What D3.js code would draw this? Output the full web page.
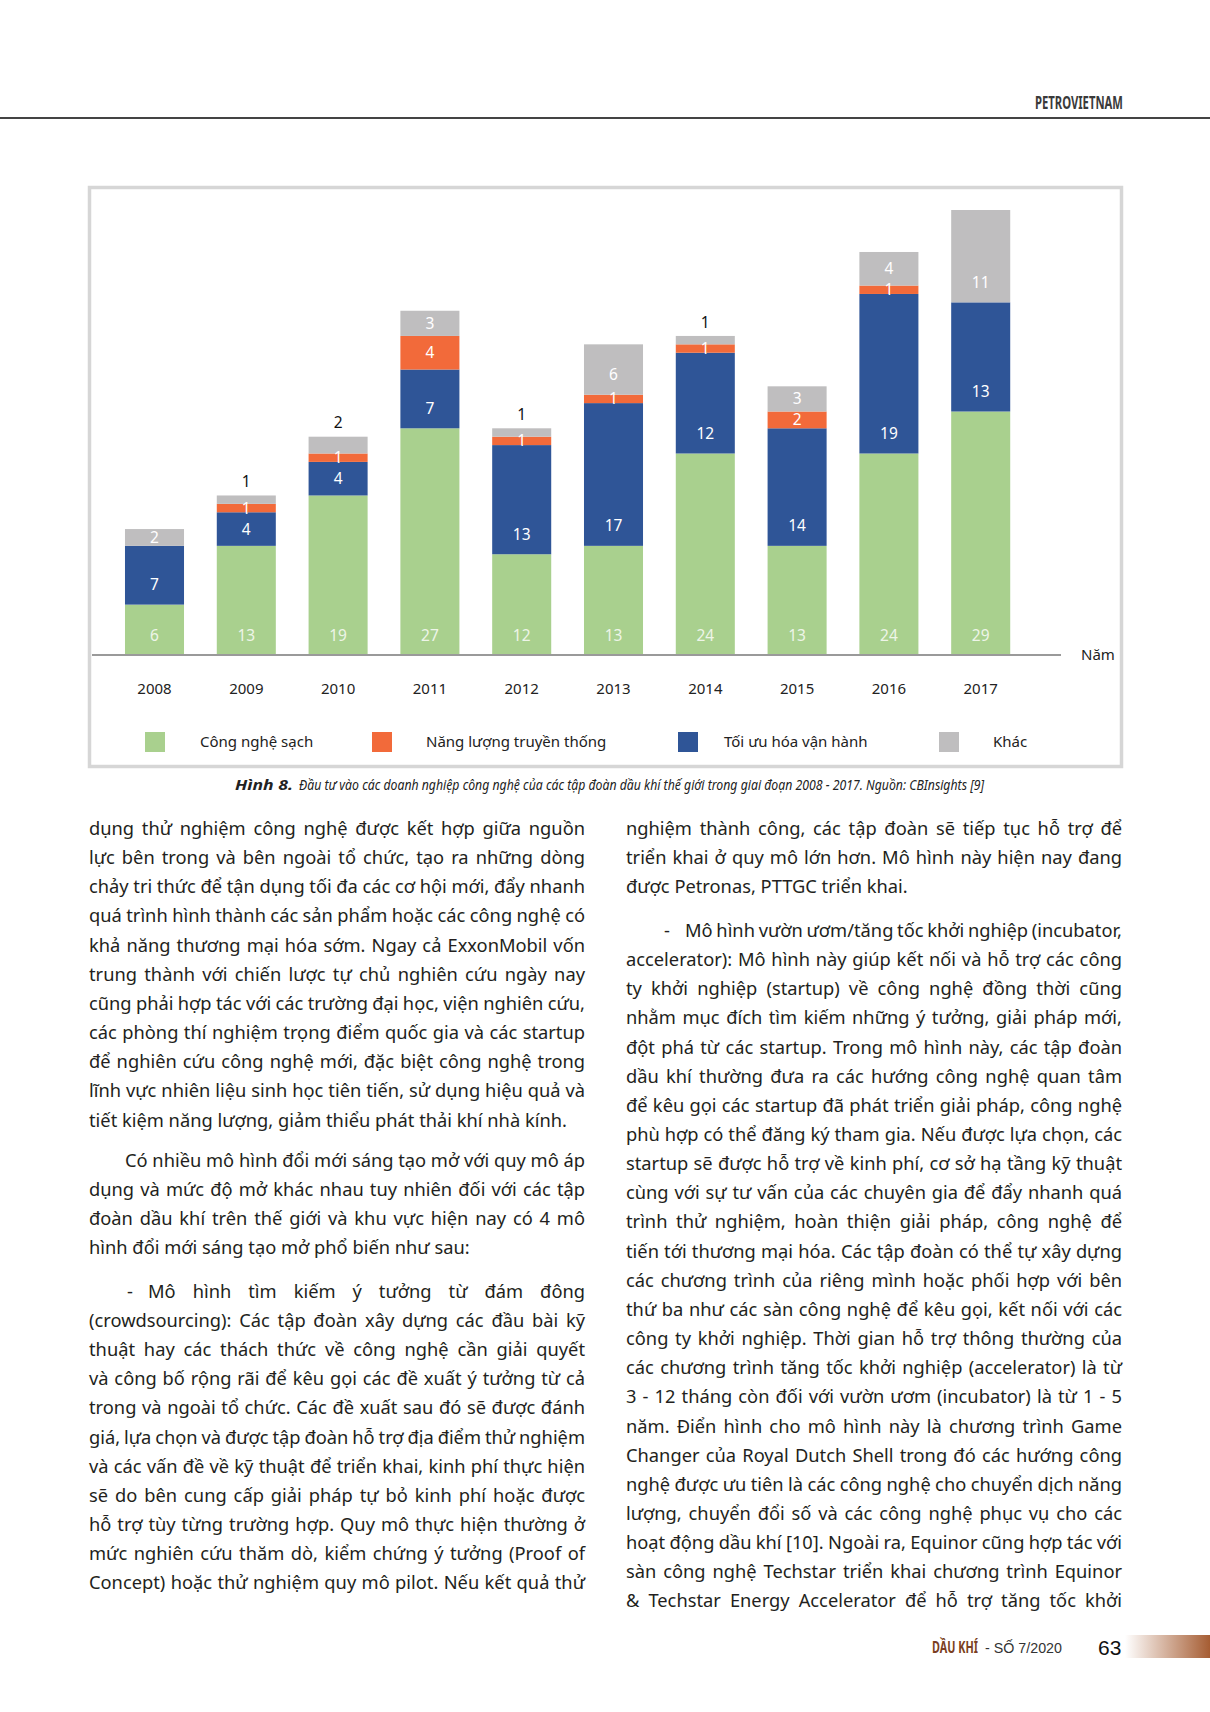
<!DOCTYPE html>
<html><head><meta charset="utf-8">
<script src="https://cdn.jsdelivr.net/npm/d3@7/dist/d3.min.js"></script>
<style>
body{margin:0;background:#fff;}
svg{display:block;}
</style></head>
<body>
<svg id="page" width="1210" height="1712"></svg>
<script>
// ---------- DATA ----------
const years = ["2008","2009","2010","2011","2012","2013","2014","2015","2016","2017"];
const cleanTech    = [6, 13, 19, 27, 12, 13, 24, 13, 24, 29];   // Công nghệ sạch
const optimization = [7, 4, 4, 7, 13, 17, 12, 14, 19, 13];      // Tối ưu hóa vận hành
const traditional  = [0, 1, 1, 4, 1, 1, 1, 2, 1, 0];            // Năng lượng truyền thống
const other        = [2, 1, 2, 3, 1, 6, 1, 3, 4, 11];           // Khác
const seriesNames = ["Công nghệ sạch", "Năng lượng truyền thống", "Tối ưu hóa vận hành", "Khác"];
const axisTitle = "Năm";
const caption = ["Hình 8.", "Đầu tư vào các doanh nghiệp công nghệ của các tập đoàn dầu khí thế giới trong giai đoạn 2008 - 2017. Nguồn: CBInsights [9]"];
const headerText = "PETROVIETNAM";
const footerText = ["DẦU KHÍ", "- SỐ 7/2020", "63"];

const leftParas = [
  {first:"plain", last:false, lines:[
    "dụng thử nghiệm công nghệ được kết hợp giữa nguồn",
    "lực bên trong và bên ngoài tổ chức, tạo ra những dòng",
    "chảy tri thức để tận dụng tối đa các cơ hội mới, đẩy nhanh",
    "quá trình hình thành các sản phẩm hoặc các công nghệ có",
    "khả năng thương mại hóa sớm. Ngay cả ExxonMobil vốn",
    "trung thành với chiến lược tự chủ nghiên cứu ngày nay",
    "cũng phải hợp tác với các trường đại học, viện nghiên cứu,",
    "các phòng thí nghiệm trọng điểm quốc gia và các startup",
    "để nghiên cứu công nghệ mới, đặc biệt công nghệ trong",
    "lĩnh vực nhiên liệu sinh học tiên tiến, sử dụng hiệu quả và",
    "tiết kiệm năng lượng, giảm thiểu phát thải khí nhà kính."]},
  {first:"indent", last:false, lines:[
    "Có nhiều mô hình đổi mới sáng tạo mở với quy mô áp",
    "dụng và mức độ mở khác nhau tuy nhiên đối với các tập",
    "đoàn dầu khí trên thế giới và khu vực hiện nay có 4 mô",
    "hình đổi mới sáng tạo mở phổ biến như sau:"]},
  {first:"dash", last:true, lines:[
    "Mô hình tìm kiếm ý tưởng từ đám đông",
    "(crowdsourcing): Các tập đoàn xây dựng các đầu bài kỹ",
    "thuật hay các thách thức về công nghệ cần giải quyết",
    "và công bố rộng rãi để kêu gọi các đề xuất ý tưởng từ cả",
    "trong và ngoài tổ chức. Các đề xuất sau đó sẽ được đánh",
    "giá, lựa chọn và được tập đoàn hỗ trợ địa điểm thử nghiệm",
    "và các vấn đề về kỹ thuật để triển khai, kinh phí thực hiện",
    "sẽ do bên cung cấp giải pháp tự bỏ kinh phí hoặc được",
    "hỗ trợ tùy từng trường hợp. Quy mô thực hiện thường ở",
    "mức nghiên cứu thăm dò, kiểm chứng ý tưởng (Proof of",
    "Concept) hoặc thử nghiệm quy mô pilot. Nếu kết quả thử"]}
];
const rightParas = [
  {first:"plain", last:false, lines:[
    "nghiệm thành công, các tập đoàn sẽ tiếp tục hỗ trợ để",
    "triển khai ở quy mô lớn hơn. Mô hình này hiện nay đang",
    "được Petronas, PTTGC triển khai."]},
  {first:"dash", last:true, lines:[
    "Mô hình vườn ươm/tăng tốc khởi nghiệp (incubator,",
    "accelerator): Mô hình này giúp kết nối và hỗ trợ các công",
    "ty khởi nghiệp (startup) về công nghệ đồng thời cũng",
    "nhằm mục đích tìm kiếm những ý tưởng, giải pháp mới,",
    "đột phá từ các startup. Trong mô hình này, các tập đoàn",
    "dầu khí thường đưa ra các hướng công nghệ quan tâm",
    "để kêu gọi các startup đã phát triển giải pháp, công nghệ",
    "phù hợp có thể đăng ký tham gia. Nếu được lựa chọn, các",
    "startup sẽ được hỗ trợ về kinh phí, cơ sở hạ tầng kỹ thuật",
    "cùng với sự tư vấn của các chuyên gia để đẩy nhanh quá",
    "trình thử nghiệm, hoàn thiện giải pháp, công nghệ để",
    "tiến tới thương mại hóa. Các tập đoàn có thể tự xây dựng",
    "các chương trình của riêng mình hoặc phối hợp với bên",
    "thứ ba như các sàn công nghệ để kêu gọi, kết nối với các",
    "công ty khởi nghiệp. Thời gian hỗ trợ thông thường của",
    "các chương trình tăng tốc khởi nghiệp (accelerator) là từ",
    "3 - 12 tháng còn đối với vườn ươm (incubator) là từ 1 - 5",
    "năm. Điển hình cho mô hình này là chương trình Game",
    "Changer của Royal Dutch Shell trong đó các hướng công",
    "nghệ được ưu tiên là các công nghệ cho chuyển dịch năng",
    "lượng, chuyển đổi số và các công nghệ phục vụ cho các",
    "hoạt động dầu khí [10]. Ngoài ra, Equinor cũng hợp tác với",
    "sàn công nghệ Techstar triển khai chương trình Equinor",
    "& Techstar Energy Accelerator để hỗ trợ tăng tốc khởi"]}
];

// ---------- STYLE ----------
const colors = {clean:"#a9d08e", opt:"#2f5597", trad:"#f26a3a", other:"#bfbebf"};
const FONT = "'Noto Sans', 'Open Sans', sans-serif";
const svg = d3.select("#page");

// text squeezed horizontally to a target width (condensed look)
function fitText(x, y, width, str, attrs) {
  const t = svg.append("text").attr("x", 0).attr("y", 0).text(str);
  Object.entries(attrs).forEach(([k, v]) => t.attr(k, v));
  const len = t.node().getComputedTextLength();
  t.attr("transform", `translate(${x},${y}) scale(${width / len},1)`);
  return t;
}

// ---------- HEADER ----------
fitText(1035, 108.5, 88, headerText,
  {"font-family": FONT, "font-weight": 700, "font-size": 18, "fill": "#3a3a3a"});
svg.append("line").attr("x1", 0).attr("x2", 1210).attr("y1", 118).attr("y2", 118)
  .attr("stroke", "#444").attr("stroke-width", 2);

// ---------- CHART ----------
svg.append("rect").attr("x", 89.5).attr("y", 187.5).attr("width", 1032).attr("height", 579)
  .attr("fill", "#fff").attr("stroke", "#d6d6d6").attr("stroke-width", 3.5);

const x = d3.scaleBand().domain(years).range([108.6, 1026.6]).paddingInner(0.357).paddingOuter(0.1785);
const y = d3.scaleLinear().domain([0, 53]).range([655, 210]);

const rows = years.map((yr, i) => ({year: yr, clean: cleanTech[i], opt: optimization[i], trad: traditional[i], other: other[i]}));
const keys = ["clean", "opt", "trad", "other"];
const stacked = d3.stack().keys(keys)(rows);

const gBars = svg.append("g");
stacked.forEach(layer => {
  gBars.selectAll(null).data(layer).join("rect")
    .attr("x", d => x(d.data.year))
    .attr("width", x.bandwidth())
    .attr("y", d => y(d[1]))
    .attr("height", d => y(d[0]) - y(d[1]))
    .attr("fill", colors[layer.key]);
});

// value labels
const gLab = svg.append("g").attr("font-family", FONT).attr("font-size", 15.5).attr("text-anchor", "middle");
stacked.forEach(layer => {
  layer.forEach((d, i) => {
    const v = d[1] - d[0];
    if (v <= 0) return;
    const top = y(d[1]), bot = y(d[0]), h = bot - top;
    const cx = x(d.data.year) + x.bandwidth() / 2;
    let ly, fill;
    if (layer.key === "other" && v <= 2 && traditional[i] > 0) {
      ly = top - 14; fill = "#111";
    } else {
      ly = bot - Math.min(h / 2, 20);
      fill = layer.key === "clean" ? "#eef5e8" : "#ffffff";
    }
    gLab.append("text").attr("x", cx).attr("y", ly).attr("dy", "0.36em").attr("fill", fill).text(v);
  });
});

// baseline axis line
svg.append("line").attr("x1", 92).attr("x2", 1061).attr("y1", y(0)).attr("y2", y(0))
  .attr("stroke", "#9a9a9a").attr("stroke-width", 2);
svg.append("text").attr("x", 1081).attr("y", 655).attr("dy", "0.36em")
  .attr("font-family", FONT).attr("font-size", 15).attr("fill", "#222").text(axisTitle);

// x axis labels
const xAxis = svg.append("g").attr("transform", `translate(0,${y(0)})`)
  .call(d3.axisBottom(x).tickSize(0).tickPadding(28));
xAxis.select(".domain").remove();
xAxis.selectAll("text").attr("font-family", FONT).attr("font-size", 15).attr("fill", "#222");

// legend
const legendItems = [
  {name: seriesNames[0], color: colors.clean, sx: 145, tx: 200},
  {name: seriesNames[1], color: colors.trad, sx: 372, tx: 426},
  {name: seriesNames[2], color: colors.opt, sx: 678, tx: 724},
  {name: seriesNames[3], color: colors.other, sx: 939, tx: 993}
];
const gLeg = svg.append("g");
legendItems.forEach(it => {
  gLeg.append("rect").attr("x", it.sx).attr("y", 732).attr("width", 20).attr("height", 20).attr("fill", it.color);
  gLeg.append("text").attr("x", it.tx).attr("y", 742).attr("dy", "0.36em")
    .attr("font-family", FONT).attr("font-size", 15).attr("fill", "#222").text(it.name);
});

// caption
fitText(235, 790, 58, caption[0],
  {"font-family": FONT, "font-size": 15, "font-style": "italic", "font-weight": 700, "fill": "#222"});
fitText(299, 790, 686, caption[1],
  {"font-family": FONT, "font-size": 15, "font-style": "italic", "fill": "#222"});

// ---------- BODY TEXT ----------
const BODY_SIZE = 18.3, LINE = 29.15;
function drawColumn(paras, x0, x1, y0, gaps) {
  let yy = y0;
  const g = svg.append("g").attr("font-family", FONT).attr("font-size", BODY_SIZE).attr("fill", "#231f20");
  paras.forEach((p, pi) => {
    if (pi > 0) yy += gaps[pi - 1];
    p.lines.forEach((ln, li) => {
      let sx = x0;
      if (li === 0 && p.first === "indent") sx = x0 + 36;
      if (li === 0 && p.first === "dash") {
        g.append("text").attr("x", x0 + 38).attr("y", yy).text("-");
        sx = x0 + 59;
      }
      const t = g.append("text").attr("x", sx).attr("y", yy).text(ln);
      const isLast = li === p.lines.length - 1;
      const len = t.node().getComputedTextLength();
      const spaces = (ln.match(/ /g) || []).length;
      if ((!isLast || p.last) && spaces > 0) {
        t.attr("word-spacing", ((x1 - sx) - len) / spaces);
      } else if (sx + len > x1 && spaces > 0) {
        t.attr("word-spacing", ((x1 - sx) - len) / spaces);
      }
      yy += LINE;
    });
  });
}
drawColumn(leftParas, 89, 585, 835, [11, 14.5]);
drawColumn(rightParas, 626, 1122, 835, [14.5]);

// ---------- FOOTER ----------
const grad = svg.append("defs").append("linearGradient").attr("id", "fg").attr("x1", "0").attr("x2", "1");
grad.append("stop").attr("offset", "0").attr("stop-color", "#ffffff");
grad.append("stop").attr("offset", "1").attr("stop-color", "#a65d33");
svg.append("rect").attr("x", 1125).attr("y", 1635).attr("width", 85).attr("height", 23).attr("fill", "url(#fg)");
fitText(932, 1653, 46, footerText[0],
  {"font-family": FONT, "font-size": 16, "font-weight": 700, "fill": "#7b3f22"});
fitText(985, 1653, 77, footerText[1],
  {"font-family": "'Liberation Sans', Arial, sans-serif", "font-size": 15.5, "fill": "#333"});
svg.append("text").attr("x", 1098).attr("y", 1655).attr("font-family", "'Liberation Sans', Arial, sans-serif")
  .attr("font-size", 21).attr("fill", "#111").text(footerText[2]);
</script>
</body></html>
